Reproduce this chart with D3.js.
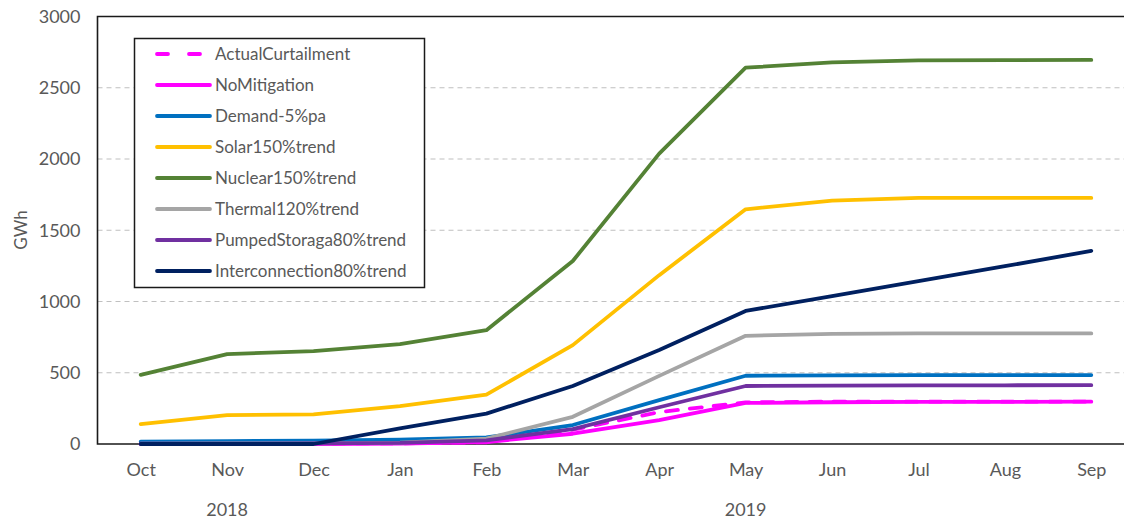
<!DOCTYPE html>
<html><head><meta charset="utf-8">
<script src="https://cdn.jsdelivr.net/npm/d3@7"></script>
<style>body{margin:0;background:#fff}svg{display:block}</style>
</head><body>
<svg id="c" width="1124" height="522"></svg>
<script>
const months = ["Oct","Nov","Dec","Jan","Feb","Mar","Apr","May","Jun","Jul","Aug","Sep"];
const yearLabels = [{year:"2018", month:"Nov"},{year:"2019", month:"May"}];
const yTicks = [0,500,1000,1500,2000,2500,3000];

const actualCurtailment = [2,3,3,5,12,100,224,292,297,298,298,298];
const noMitigation      = [0,0,0,2,14,72,168,288,293,295,296,297];
const demand            = [17,20,24,30,46,133,308,479,482,483,483,484];
const solar             = [140,203,208,266,346,694,1185,1647,1708,1727,1727,1727];
const nuclear           = [485,631,652,701,799,1284,2038,2641,2678,2692,2694,2695];
const thermal           = [3,4,5,10,38,191,478,759,773,776,776,776];
const pumpedStorage     = [2,3,4,8,26,105,258,407,410,411,412,413];
const interconnection   = [0,0,0,110,213,407,659,934,1038,1143,1248,1355];

const seriesNames  = ["ActualCurtailment","NoMitigation","Demand-5%pa","Solar150%trend","Nuclear150%trend","Thermal120%trend","PumpedStoraga80%trend","Interconnection80%trend"];
const seriesValues = [actualCurtailment,noMitigation,demand,solar,nuclear,thermal,pumpedStorage,interconnection];
const seriesColors = ["#FF00FF","#FF00FF","#0070C0","#FFC000","#548235","#A5A5A5","#7030A0","#002060"];
const seriesDash   = ["12,12",null,null,null,null,null,null,null];

(function(){
const svg = d3.select("#c");
const font = "Lato, 'Open Sans', sans-serif";
const pLeft = 97.5, pTop = 16.5, pBottom = 444, pRight = 1134.5;

const x = d3.scalePoint().domain(months).range([pLeft, pRight]).padding(0.5);
const y = d3.scaleLinear().domain([0,3000]).range([pBottom, pTop]);

svg.append("g").selectAll("line").data(yTicks.filter(t=>t>0 && t<3000)).join("line")
  .attr("x1", pLeft).attr("x2", pRight).attr("y1", d=>y(d)).attr("y2", d=>y(d))
  .attr("stroke","#C0C0C0").attr("stroke-width",1.2).attr("stroke-dasharray","5,4");

const yAxis = d3.axisLeft(y).tickValues(yTicks).tickFormat(d3.format("d")).tickSize(0).tickPadding(17);
const ya = svg.append("g").attr("transform",`translate(${pLeft},0)`).call(yAxis);
ya.select(".domain").remove();
ya.selectAll("text").attr("font-family",font).attr("font-size",18).attr("fill","#595959");

const xAxis = d3.axisBottom(x).tickSize(0).tickPadding(19);
const xa = svg.append("g").attr("transform",`translate(0,${pBottom})`).call(xAxis);
xa.select(".domain").remove();
xa.selectAll("text").attr("font-family",font).attr("font-size",18).attr("fill","#595959");

svg.append("g").selectAll("text").data(yearLabels).join("text")
  .attr("x", d=>x(d.month)).attr("y", 510).attr("dy","0.35em").attr("text-anchor","middle")
  .attr("font-family",font).attr("font-size",18).attr("fill","#595959").text(d=>d.year);

svg.append("text").attr("transform","translate(21,230) rotate(-90)")
  .attr("text-anchor","middle").attr("dy","0.35em").attr("font-family",font).attr("font-size",17)
  .attr("fill","#595959").text("GWh");

svg.append("path").attr("d",`M${pRight},${pTop}H${pLeft}V${pBottom}H${pRight}`)
  .attr("fill","none").attr("stroke","#1a1a1a").attr("stroke-width",1.6);

const line = d3.line().x((d,i)=>x(months[i])).y(d=>y(d));
seriesValues.forEach((vals,k)=>{
  svg.append("path").datum(vals).attr("d",line).attr("fill","none")
    .attr("stroke",seriesColors[k]).attr("stroke-width",3.8)
    .attr("stroke-linejoin","round").attr("stroke-linecap","round")
    .attr("stroke-dasharray",seriesDash[k]);
});

const lg = svg.append("g");
lg.append("rect").attr("x",134.5).attr("y",38.5).attr("width",290).attr("height",249)
  .attr("fill","#fff").attr("stroke","#1a1a1a").attr("stroke-width",1.5);
seriesNames.forEach((n,k)=>{
  const yy = 54 + k*31;
  lg.append("line").attr("x1",157).attr("x2",210).attr("y1",yy).attr("y2",yy)
    .attr("stroke",seriesColors[k]).attr("stroke-width",3.8)
    .attr("stroke-linecap","round").attr("stroke-dasharray",k===0?"11,21":null);
  lg.append("text").attr("x",215).attr("y",yy).attr("dy","0.35em")
    .attr("font-family",font).attr("font-size",17).attr("fill","#595959").text(n);
});
})();
</script>
</body></html>
